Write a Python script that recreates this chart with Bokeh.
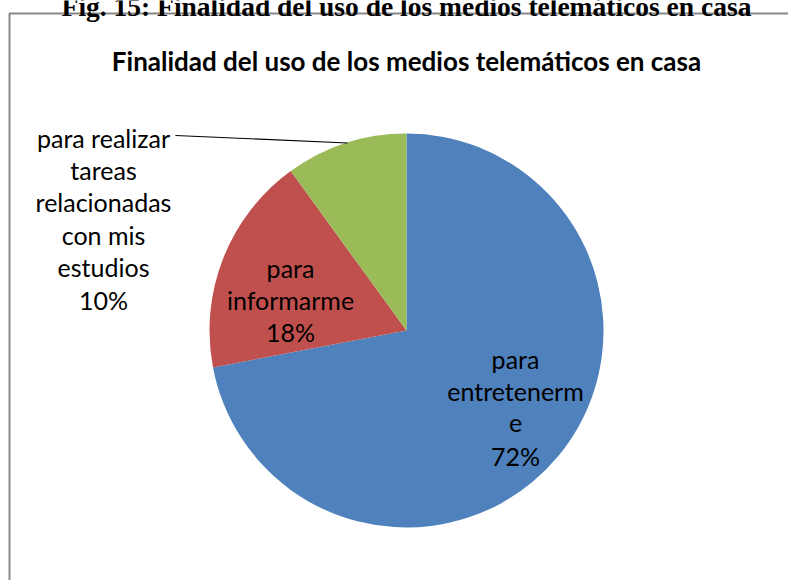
import math
from bokeh.plotting import figure
from bokeh.models import Range1d
from bokeh.core.properties import value
from bokeh.embed import file_html
from bokeh.resources import INLINE

# ---- data ----
caption = "Fig. 15: Finalidad del uso de los medios telemáticos en casa"
chart_title = "Finalidad del uso de los medios telemáticos en casa"
categories = ["para entretenerme", "para informarme",
              "para realizar tareas relacionadas con mis estudios"]
percentages = [72, 18, 10]
colors = ["#4F81BD", "#C0504D", "#9BBB59"]
# category names as wrapped in the chart's data labels
wrapped_names = [["para", "entretenerm", "e"],
                 ["para", "informarme"],
                 ["para realizar", "tareas", "relacionadas", "con mis", "estudios"]]

# ---- layout (screen pixels) ----
W, H = 788, 580
CX, CY, R = 406, 330, 197
LABEL_POS = [(515, 358), (290, 267), (103, 137)]  # x centre, first baseline
LINE_STEP = 32.4
LABEL_FONT = "Lato"
LABEL_SIZE = "25px"


def Y(sy):
    return H - sy


p = figure(width=W, height=H, x_range=Range1d(0, W), y_range=Range1d(0, H),
           output_backend="svg", toolbar_location=None, min_border=0,
           x_axis_location=None, y_axis_location=None,
           margin=(0, 0, 0, 0))
p.grid.visible = False
p.outline_line_color = None
p.background_fill_color = "white"
p.border_fill_color = "white"

# chart area border
p.quad(left=[9], right=[W + 50], top=[Y(13)], bottom=[Y(H + 50)],
       fill_color=None, line_color="#888888", line_width=2)

# caption (cut at top, as in the source page)
p.text(x=[406], y=[Y(6)], text=[caption], text_align="center",
       text_baseline="alphabetic", text_font=value("Liberation Serif"),
       text_font_style="bold", text_font_size="27.5px", text_color="black")

# title
p.text(x=[406], y=[Y(60)], text=[chart_title], text_align="center",
       text_baseline="alphabetic", text_font=value(LABEL_FONT),
       text_font_style="bold", text_font_size="26px", text_color="black")

# pie
total = sum(percentages)
start = math.pi / 2
starts, ends = [], []
for v in percentages:
    end = start - 2 * math.pi * v / total
    starts.append(start)
    ends.append(end)
    start = end
p.wedge(x=[CX] * len(percentages), y=[Y(CY)] * len(percentages), radius=R,
        start_angle=starts, end_angle=ends, direction="clock",
        fill_color=colors, line_color=None)

# leader line for the outside label
p.line(x=[175, 347], y=[Y(135), Y(142.5)], line_color="black", line_width=1.2)

# data labels
for names, pct, (lx, ly) in zip(wrapped_names, percentages, LABEL_POS):
    lines = names + [f"{pct}%"]
    xs = [lx] * len(lines)
    ys = [Y(ly + i * LINE_STEP) for i in range(len(lines))]
    p.text(x=xs, y=ys, text=lines, text_align="center",
           text_baseline="alphabetic", text_font=value(LABEL_FONT),
           text_font_size=LABEL_SIZE, text_color="black")

open("out.html", "w").write(file_html(p, INLINE))
